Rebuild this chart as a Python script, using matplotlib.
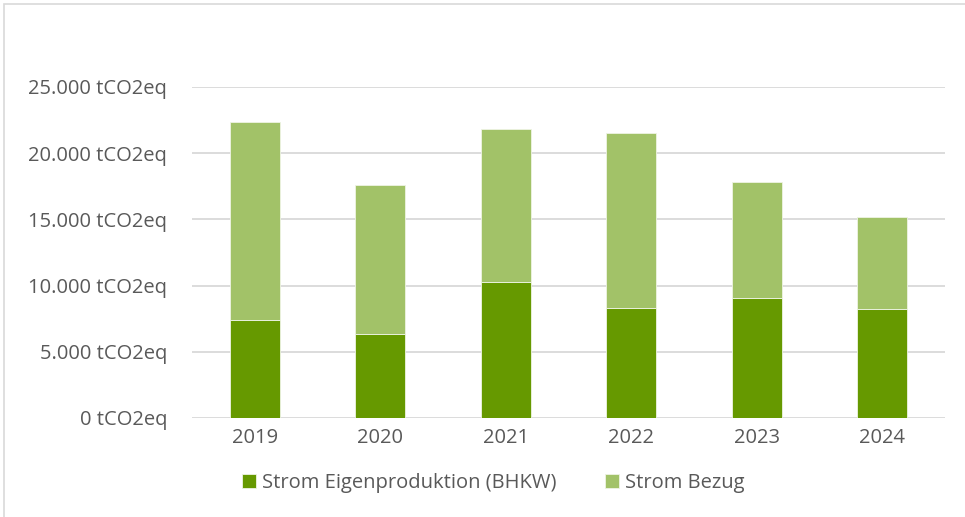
import matplotlib.pyplot as plt
from matplotlib.patches import Rectangle
from matplotlib.ticker import FuncFormatter

years = ['2019', '2020', '2021', '2022', '2023', '2024']
eigenproduktion = [7420, 6380, 10260, 8320, 9080, 8250]
bezug_total = [22390, 17600, 21840, 21560, 17850, 15200]
bezug = [t - e for t, e in zip(bezug_total, eigenproduktion)]

dark = '#669900'
light = '#A2C268'
text_col = '#595959'

plt.rcParams['font.family'] = ['Open Sans', 'DejaVu Sans']

fig = plt.figure(figsize=(9.65, 5.17), dpi=100)
ax = fig.add_axes([192 / 965, 1 - 418 / 517, (945 - 192) / 965, (418 - 87) / 517])

x = range(len(years))
ax.bar(x, eigenproduktion, width=0.4, color=dark, edgecolor='#EEF4E4', linewidth=0.6,
       label='Strom Eigenproduktion (BHKW)', zorder=3)
ax.bar(x, bezug, width=0.4, bottom=eigenproduktion, color=light, edgecolor='#EEF4E4',
       linewidth=0.6, label='Strom Bezug', zorder=3)

ax.set_xlim(-0.5, len(years) - 0.5)
ax.set_ylim(0, 25000)
ax.set_yticks(range(0, 25001, 5000))
ax.yaxis.set_major_formatter(FuncFormatter(lambda v, p: f'{int(v):,} tCO2eq'.replace(',', '.')))
ax.set_xticks(list(x))
ax.set_xticklabels(years)
ax.grid(axis='y', color='#D9D9D9', linewidth=1.3, zorder=0)
ax.tick_params(length=0, labelsize=14.5, colors=text_col, pad=7)
ax.tick_params(axis='y', pad=18)
for s in ax.spines.values():
    s.set_visible(False)

fig.legend(loc='center', bbox_to_anchor=(493 / 965, 1 - 483 / 517), ncol=2, frameon=False,
           fontsize=14.5, labelcolor=text_col, handlelength=0.7, handleheight=0.7,
           handletextpad=0.3, columnspacing=2.4)

fig.patches.append(Rectangle((4 / 965, -0.1), 1.2, 1 - 4 / 517 + 0.1, transform=fig.transFigure,
                             fill=False, edgecolor='#D9D9D9', linewidth=1.2))

fig.savefig('out.png')
